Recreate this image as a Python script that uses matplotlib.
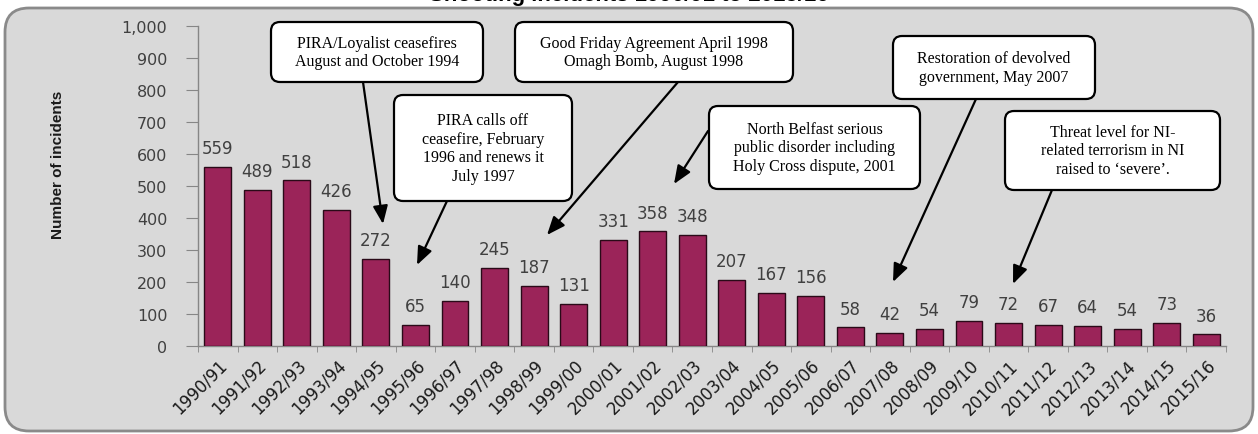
import matplotlib
matplotlib.use("Agg")
import matplotlib.pyplot as plt
from matplotlib import font_manager
from matplotlib.patches import FancyBboxPatch
from matplotlib.transforms import IdentityTransform, ScaledTranslation
from matplotlib.ticker import FuncFormatter, MultipleLocator

# data
years = ["1990/91", "1991/92", "1992/93", "1993/94", "1994/95", "1995/96",
         "1996/97", "1997/98", "1998/99", "1999/00", "2000/01", "2001/02",
         "2002/03", "2003/04", "2004/05", "2005/06", "2006/07", "2007/08",
         "2008/09", "2009/10", "2010/11", "2011/12", "2012/13", "2013/14",
         "2014/15", "2015/16"]
incidents = [559, 489, 518, 426, 272, 65, 140, 245, 187, 131, 331, 358, 348,
             207, 167, 156, 58, 42, 54, 79, 72, 67, 64, 54, 73, 36]

notes = ["PIRA/Loyalist ceasefires\nAugust and October 1994",
         "PIRA calls off\nceasefire, February\n1996 and renews it\nJuly 1997",
         "Good Friday Agreement April 1998\nOmagh Bomb, August 1998",
         "North Belfast serious\npublic disorder including\nHoly Cross dispute, 2001",
         "Restoration of devolved\ngovernment, May 2007",
         "Threat level for NI-\nrelated terrorism in NI\nraised to \u2018severe\u2019."]

# box corners (left, top, right, bottom) and arrow start/end, in pixels from top-left
note_boxes = [(271, 23, 483, 83), (394, 96, 572, 202), (515, 23, 793, 83),
              (709, 107, 920, 190), (893, 37, 1095, 100), (1005, 112, 1220, 191)]
note_arrows = [((363, 83), (383, 225)), ((447, 202), (417, 266)),
               ((678, 83), (547, 236)), ((708, 132), (674, 185)),
               ((976, 100), (893, 283)), ((1052, 191), (1013, 285))]

W, H = 1258, 435
names = {f.name for f in font_manager.fontManager.ttflist}
if "Liberation Sans Narrow" in names:
    ylab_font, ylab_size = "Liberation Sans Narrow", 12.5
else:
    ylab_font, ylab_size = "Liberation Sans", 11

fig = plt.figure(figsize=(W / 100, H / 100), dpi=100)

# grey rounded panel behind everything
panel = FancyBboxPatch((5, H - 432), 1248, 423,
                       boxstyle="round,pad=0,rounding_size=24",
                       transform=IdentityTransform(), fc="#d9d9d9",
                       ec="#8a8a8a", lw=2, zorder=-5)
fig.add_artist(panel)

# title, mostly cut off at top like the source
fig.text(0.5, 1 - 0.5 / H, "Shooting incidents 1990/91 to 2015/16",
         ha="center", va="baseline", fontsize=16, fontweight="bold",
         family="Liberation Sans", color="black")

ax = fig.add_axes([198 / W, (H - 347) / H, 1028 / W, 320 / H])
ax.set_facecolor("none")

x = list(range(len(years)))
ax.bar(x, incidents, width=0.68, color="#9b2459", edgecolor="#2a0a18",
       linewidth=1, zorder=3)

for xi, v in zip(x, incidents):
    ax.annotate(str(v), (xi, v), xytext=(0, 7), textcoords="offset points",
                ha="center", va="bottom", fontsize=12, color="#404040",
                family="DejaVu Sans")

ax.set_xlim(-0.5, len(years) - 0.5)
ax.set_ylim(0, 1000)
ax.yaxis.set_major_locator(MultipleLocator(100))
ax.yaxis.set_major_formatter(FuncFormatter(lambda v, p: f"{int(v):,}"))

ax.set_xticks(x)
ax.set_xticklabels(years, rotation=45, ha="right", rotation_mode="anchor",
                   fontsize=12, color="#1a1a1a", family="DejaVu Sans")
shift = ScaledTranslation(7 / 72, 0, fig.dpi_scale_trans)
for lab in ax.get_xticklabels():
    lab.set_transform(lab.get_transform() + shift)
ax.set_xticks([i + 0.5 for i in range(-1, len(years))], minor=True)
ax.tick_params(axis="x", which="major", length=0, pad=7)
ax.tick_params(axis="x", which="minor", length=4, color="#868686", direction="out")
ax.tick_params(axis="y", length=9, color="#868686", pad=13, labelsize=11.5,
               labelcolor="#404040")
for lab in ax.get_yticklabels():
    lab.set_family("DejaVu Sans")

for s in ["top", "right"]:
    ax.spines[s].set_visible(False)
for s in ["left", "bottom"]:
    ax.spines[s].set_color("#868686")
    ax.spines[s].set_linewidth(1)

ax.set_ylabel("Number of incidents", fontsize=ylab_size, fontweight="bold",
              family=ylab_font, color="#1a1a1a")
ax.yaxis.set_label_coords(-0.129, 0.57)

# callout boxes with arrows
for txt, (l, t, r, b), (start, tip) in zip(notes, note_boxes, note_arrows):
    box = FancyBboxPatch((l, H - b), r - l, b - t,
                         boxstyle="round,pad=0,rounding_size=9",
                         transform=IdentityTransform(), fc="white",
                         ec="black", lw=1.6, zorder=5)
    fig.add_artist(box)
    fig.text((l + r) / 2 / W, 1 - (t + b) / 2 / H, txt, ha="center",
             va="center", fontsize=11.5, family="Liberation Serif",
             color="black", zorder=6, linespacing=1.2)
    ax.annotate("", xy=(tip[0], H - tip[1]), xytext=(start[0], H - start[1]),
                xycoords="figure pixels", textcoords="figure pixels",
                annotation_clip=False,
                arrowprops=dict(arrowstyle="-|>,head_length=1.1,head_width=0.45",
                                mutation_scale=10, color="black", lw=1.6,
                                shrinkA=0, shrinkB=0), zorder=6)

fig.savefig("out.png", dpi=100)
